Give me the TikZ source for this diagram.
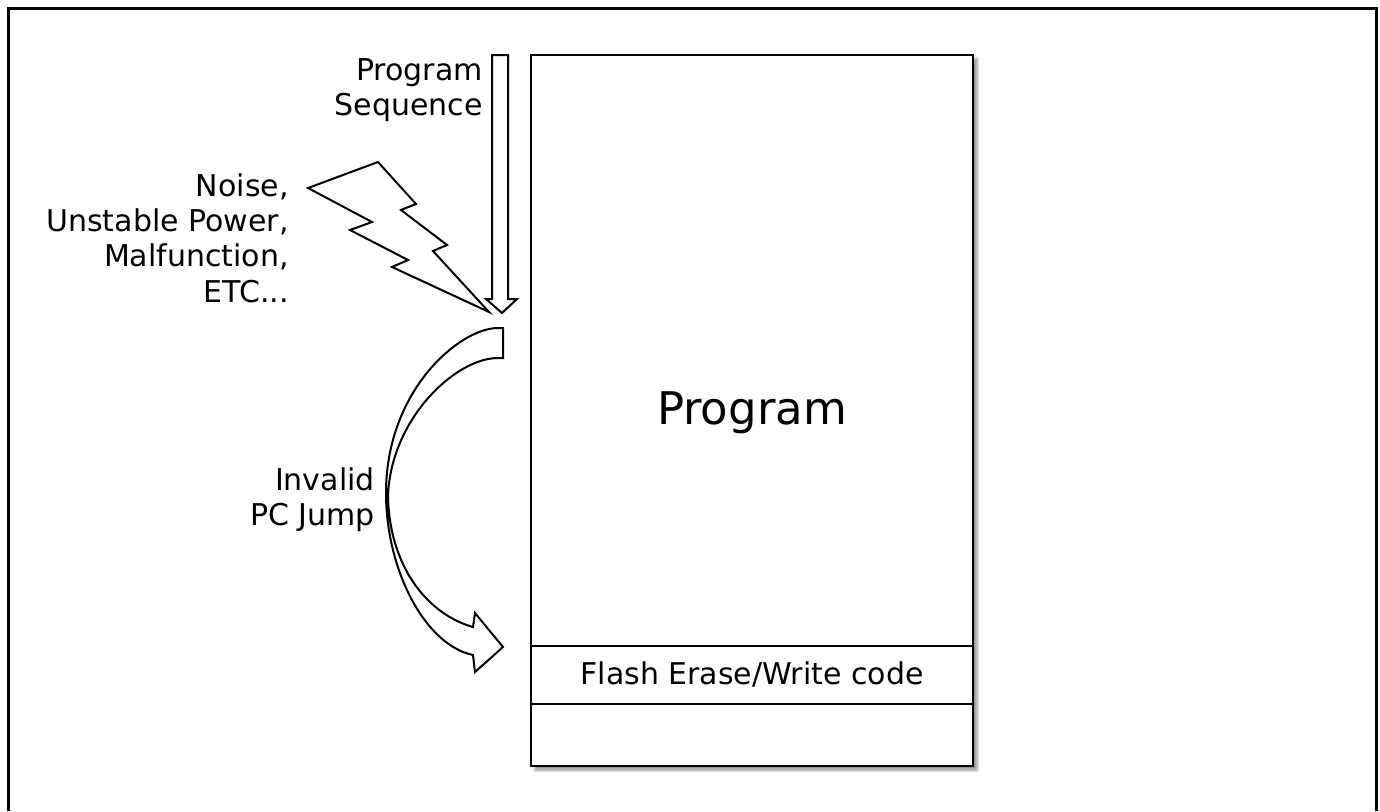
\documentclass[tikz,border=0pt]{standalone}
\usepackage{fontspec}
\setmainfont{DejaVu Sans}
\usetikzlibrary{shadows.blur}

\tikzset{
	outline/.style={line width=1.5pt, line join=miter, fill=white},
	lbl/.style={inner sep=0pt, font=\fontsize{22.5}{26.5}\selectfont},
	biglbl/.style={inner sep=0pt, font=\fontsize{33.75}{40}\selectfont}
}

\begin{document}
\begin{tikzpicture}[x=0.75pt, y=-0.75pt]
	\useasboundingbox (0,0) rectangle (1380,811);
	\draw[line width=2.25pt] (8,811)--(8,8)--(1376,8)--(1376,811);
	% memory map
	\draw[line width=1.5pt, fill=white, blur shadow={shadow xshift=3pt, shadow yshift=-3pt, shadow blur steps=6, shadow opacity=45}] (531,55) rectangle (973,766);
	\draw[line width=1.5pt] (531,646)--(973,646);
	\draw[line width=1.5pt] (531,704)--(973,704);
	\node[biglbl, anchor=base] (prog) at (752,424) {Program};
	\node[lbl, anchor=base] (flash) at (752,684) {Flash Erase/Write code};
	% normal flow
	\draw[outline] (492,55)--(508,55)--(508,299)--(517,299)--(502,313)--(486,299)--(492,299)--cycle;
	\node[lbl, align=right, anchor=east] (seq) at (483,90) {Program\\Sequence};
	% disturbance
	\draw[outline] (308,188)--(378,162)--(416,204)--(401,210)--(447,245)--(433,251)--(489,312)--(392,267)--(408,260)--(350,230)--(372,222)--cycle;
	\node[lbl, align=right, anchor=east] (noise) at (289,238) {Noise,\\Unstable Power,\\Malfunction,\\ETC...};
	% wrong jump
	\draw[outline] (503,328)--(503,358)--(498,358)
		.. controls (455,358) and (390,420) .. (388,497)
		.. controls (390,570) and (430,615) .. (473,627)
		--(475,613)--(503,647)--(475,672)--(473,655)
		.. controls (425,645) and (386,570) .. (386,493)
		.. controls (386,390) and (460,328) .. (498,328)--cycle;
	\node[lbl, align=right, anchor=east] (jump) at (375,500) {Invalid\\PC Jump};
\end{tikzpicture}
\end{document}
